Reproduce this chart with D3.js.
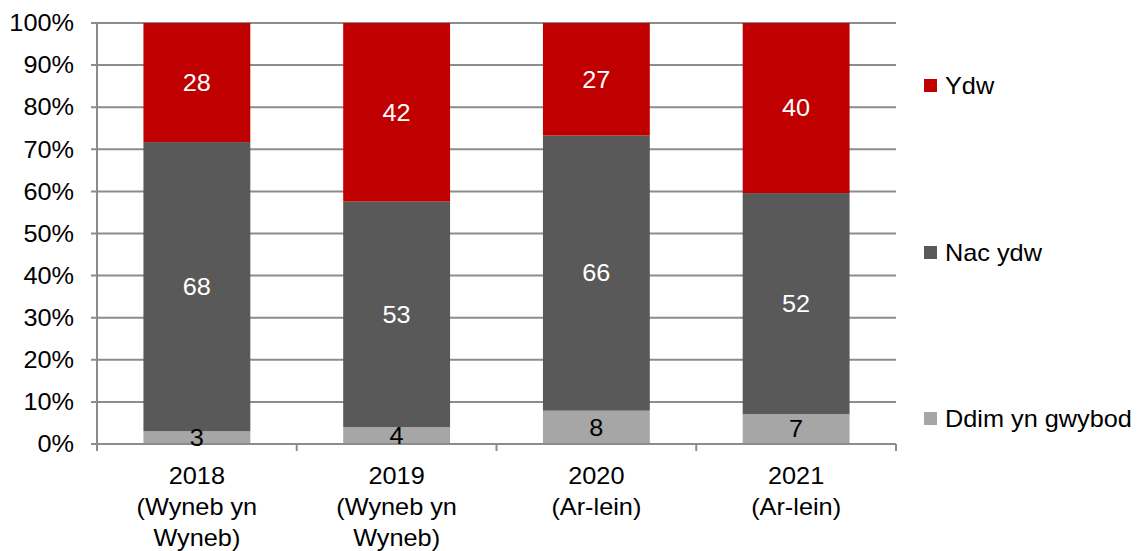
<!DOCTYPE html>
<html><head><meta charset="utf-8">
<script src="https://cdn.jsdelivr.net/npm/d3@7"></script>
<style>body{margin:0;background:#fff}svg{display:block}text{font-family:"Liberation Sans",Arial,sans-serif}</style>
</head><body><svg id="c" width="1144" height="551"></svg>
<script>
const categories = [["2018","(Wyneb yn","Wyneb)"],["2019","(Wyneb yn","Wyneb)"],["2020","(Ar-lein)"],["2021","(Ar-lein)"]];
const seriesNames = ["Ddim yn gwybod","Nac ydw","Ydw"];
const ddim = [3,4,8,7];
const nac = [68,53,66,52];
const ydw = [28,42,27,40];
const yTicks = [0,0.1,0.2,0.3,0.4,0.5,0.6,0.7,0.8,0.9,1];
const colors = ["#A6A6A6","#595959","#C00000"];
const labelColors = ["#000","#fff","#fff"];
const FS = 23, SX = 1.1;

const rows = categories.map((c,i)=>({key:i, "Ddim yn gwybod":ddim[i], "Nac ydw":nac[i], "Ydw":ydw[i]}));
const stacked = d3.stack().keys(seriesNames).offset(d3.stackOffsetExpand)(rows);

const svg = d3.select("#c");
const x = d3.scaleBand().domain(d3.range(categories.length)).range([97,896]).paddingInner(0.465).paddingOuter(0.2325);
const y = d3.scaleLinear().domain([0,1]).range([444,23]);

function txt(g, px, py){
  return g.append("text").attr("transform",`translate(${px},${py}) scale(${SX},1)`).attr("font-size",FS);
}

svg.append("g").selectAll("line").data(yTicks).join("line")
  .attr("x1",91).attr("x2",896).attr("y1",d=>y(d)).attr("y2",d=>y(d))
  .attr("stroke","#8c8c8c").attr("stroke-width",2);
svg.append("line").attr("x1",97).attr("x2",97).attr("y1",y(1)).attr("y2",y(0)+7).attr("stroke","#8c8c8c").attr("stroke-width",2);

const yl = svg.append("g");
yTicks.forEach(d=>{
  txt(yl,74,y(d)).attr("dy","0.36em").attr("text-anchor","end").attr("fill","#000").text(Math.round(d*100)+"%");
});

stacked.forEach((s,si)=>{
  svg.append("g").selectAll("rect").data(s).join("rect")
    .attr("x",(d,i)=>x(i)).attr("width",x.bandwidth())
    .attr("y",d=>y(d[1])).attr("height",d=>y(d[0])-y(d[1]))
    .attr("fill",colors[si]);
});

svg.append("line").attr("x1",97).attr("x2",896).attr("y1",y(0)).attr("y2",y(0)).attr("stroke","#8c8c8c").attr("stroke-width",2);
const bounds = d3.range(categories.length+1).map(i=>97+i*x.step());
svg.append("g").selectAll("line").data(bounds).join("line")
  .attr("x1",d=>d).attr("x2",d=>d).attr("y1",y(0)).attr("y2",y(0)+7)
  .attr("stroke","#8c8c8c").attr("stroke-width",2);

stacked.forEach((s,si)=>{
  const g = svg.append("g");
  s.forEach((d,i)=>{
    txt(g, x(i)+x.bandwidth()/2, (y(d[0])+y(d[1]))/2).attr("dy","0.36em")
      .attr("text-anchor","middle").attr("fill",labelColors[si]).text(d.data[s.key]);
  });
});

const cg = svg.append("g");
categories.forEach((lines,i)=>{
  lines.forEach((ln,j)=>{
    txt(cg, x(i)+x.bandwidth()/2, 476+j*31).attr("dy","0.36em")
      .attr("text-anchor","middle").attr("fill","#000").text(ln);
  });
});

const legY = {"Ydw":86,"Nac ydw":253,"Ddim yn gwybod":419};
const lg = svg.append("g");
seriesNames.forEach((n,i)=>{
  lg.append("rect").attr("x",924).attr("y",legY[n]-7).attr("width",13).attr("height",13).attr("fill",colors[i]);
  txt(lg,945,legY[n]).attr("dy","0.36em").attr("fill","#000").text(n);
});
</script></body></html>
